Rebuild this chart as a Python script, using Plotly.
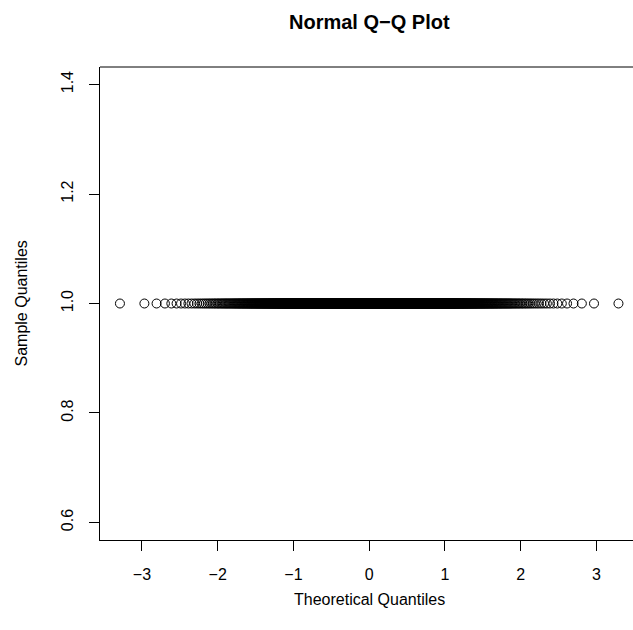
import statistics
import plotly.graph_objects as go

# ---- data ----
n_points = 1000
sample_values = [1.0] * n_points           # every sample value reads as 1.0
x_tick_vals = [-3, -2, -1, 0, 1, 2, 3]
x_tick_text = ["\u22123", "\u22122", "\u22121", "0", "1", "2", "3"]
y_tick_vals = [0.6, 0.8, 1.0, 1.2, 1.4]
y_tick_text = ["0.6", "0.8", "1.0", "1.2", "1.4"]

# theoretical normal quantiles (R's ppoints / qnorm)
nd = statistics.NormalDist()
a = 3 / 8 if n_points <= 10 else 0.5
probs = [(i - a) / (n_points + 1 - 2 * a) for i in range(1, n_points + 1)]
theoretical = [nd.inv_cdf(p) for p in probs]
sample_sorted = sorted(sample_values)

FONT = "Liberation Sans, Arial, sans-serif"

fig = go.Figure()
fig.add_trace(go.Scatter(
    x=theoretical, y=sample_sorted, mode="markers",
    marker=dict(symbol="circle-open", size=9, color="black", line=dict(width=1)),
    showlegend=False, hoverinfo="skip",
))

xr = max(abs(v) for v in theoretical)
xlo = -xr - 0.08 * xr
ylo, yhi = 0.6 - 0.032, 1.4 + 0.032

fig.update_layout(
    width=633, height=630,
    margin=dict(l=100, r=0, t=67, b=90),
    paper_bgcolor="white", plot_bgcolor="white",
    font=dict(family=FONT, size=16, color="black"),
    xaxis=dict(
        range=[xlo, xlo + 2 * xr * 1.08 * (633 - 100) / (638.4 - 100)],
        tickvals=x_tick_vals, ticktext=x_tick_text,
        ticks="outside", ticklen=10, tickwidth=1, tickcolor="black",
        showline=True, linecolor="black", linewidth=1, mirror=False,
        showgrid=False, zeroline=False, ticklabelstandoff=10,
        tickfont=dict(size=16),
    ),
    yaxis=dict(
        range=[ylo, yhi],
        tickvals=y_tick_vals, ticktext=y_tick_text, tickangle=-90,
        ticks="outside", ticklen=10, tickwidth=1, tickcolor="black",
        showline=True, linecolor="black", linewidth=1, mirror=False,
        showgrid=False, zeroline=False, ticklabelstandoff=10,
        tickfont=dict(size=16),
    ),
    shapes=[dict(type="line", xref="paper", yref="paper", x0=0, x1=1.02, y0=1, y1=1,
                 line=dict(color="black", width=1))],
    annotations=[
        dict(text="<b>Normal Q\u2212Q Plot</b>", x=0, xref="x", y=22, yref="paper",
             showarrow=False, font=dict(size=20), xanchor="center", yanchor="middle"),
        dict(text="Theoretical Quantiles", x=0, xref="x", y=-0.12, yref="paper",
             showarrow=False, font=dict(size=16), xanchor="center", yanchor="middle"),
        dict(text="Sample Quantiles", x=-0.15, xref="paper", y=1.0, yref="y",
             showarrow=False, font=dict(size=16), textangle=-90,
             xanchor="center", yanchor="middle"),
    ],
)
# title / axis-title positions in pixels, converted to paper coords
plot_h = 630 - 67 - 90
fig.layout.annotations[0].y = 1 + (67 - 22) / plot_h
fig.layout.annotations[1].y = -(599 - (630 - 90)) / plot_h
fig.layout.annotations[2].x = -(100 - 21) / (633 - 100)

fig.write_html("out.html")
